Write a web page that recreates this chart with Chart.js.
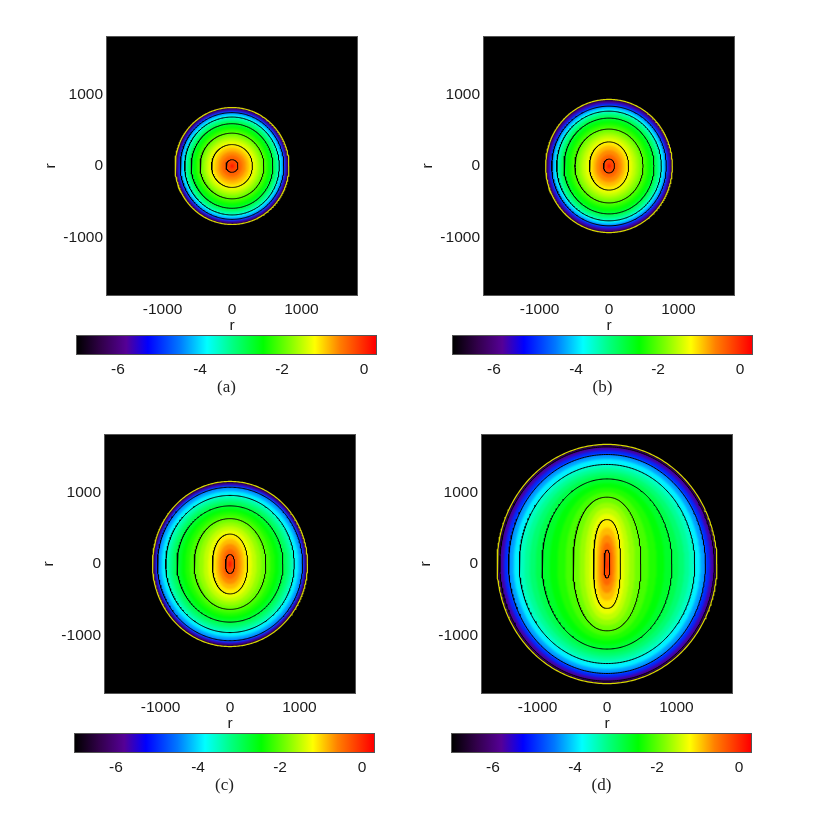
<!DOCTYPE html>
<html>
<head>
<meta charset="utf-8">
<style>
  html, body { margin: 0; padding: 0; background: #fff; }
  canvas { position: absolute; }
</style>
<script src="https://cdn.jsdelivr.net/npm/chart.js@4"></script>
</head>
<body>
<script>
// log density levels, outer edge first. each panel has half width and half height per level
const levels = [-6.8, -6.3, -5.7, -5, -4.3, -3.9, -3.5, -3.3, -3.1, -2.9, -2.7, -2.5, -2.3, -2.1, -1.9, -1.7, -1.5, -1.3, -1.1, -0.88, -0.65, -0.42, -0.2, 0.2];
// black lines, the last one only shows in the widest panel
const contourLevels = [-0.2, -1.1, -1.9, -2.7, -3.5, -4.3];
const extraContour = -5.7;

const widthA = [820, 812, 792, 770, 746, 716, 681, 660, 637, 613, 588, 558, 527, 494, 459, 420, 380, 338, 294, 250, 200, 148, 86, 25];
const heightA = [816, 808, 790, 768, 745, 716, 683, 662, 640, 616, 590, 560, 529, 495, 458, 420, 381, 340, 299, 255, 203, 150, 88, 28];
const widthB = [912, 905, 885, 858, 825, 790, 753, 730, 705, 677, 648, 612, 573, 532, 490, 440, 390, 337, 282, 238, 190, 135, 79, 22];
const heightB = [929, 920, 900, 870, 835, 802, 765, 745, 720, 695, 668, 632, 595, 556, 515, 472, 428, 382, 336, 285, 225, 160, 97, 30];
const widthC = [1116, 1105, 1088, 1068, 1045, 988, 925, 888, 848, 806, 763, 705, 645, 582, 516, 450, 384, 318, 253, 205, 160, 112, 65, 20];
const heightC = [1152, 1140, 1122, 1098, 1071, 1015, 957, 923, 888, 850, 811, 770, 728, 682, 633, 582, 528, 473, 417, 350, 280, 208, 132, 45];
const widthD = [1583, 1565, 1545, 1485, 1418, 1345, 1263, 1190, 1115, 1030, 935, 825, 715, 600, 488, 400, 320, 252, 194, 155, 118, 80, 41, 12];
const heightD = [1669, 1652, 1634, 1585, 1528, 1465, 1389, 1340, 1290, 1240, 1187, 1130, 1065, 1000, 932, 855, 780, 700, 619, 510, 405, 300, 195, 60];

// colour table
const mapLevels = [-7, -6.4, -5.8, -5.27, -4.5, -3.83, -3.2, -2.46, -1.8, -1.2, -0.6, 0.27];
const mapColors = [[0, 0, 0], [50, 0, 75], [85, 0, 150], [0, 0, 255], [0, 120, 255], [0, 255, 255], [0, 255, 130], [0, 255, 0], [130, 255, 0], [255, 255, 0], [255, 128, 0], [255, 0, 0]];

const axisTicks = [-1000, 0, 1000];
const barTicks = [-6, -4, -2, 0];
const barMin = -7;
const barMax = 0.29;
const axisMax = 1800;

function colorAt(v) {
    let i = 0;
    while (i < mapLevels.length - 2 && v > mapLevels[i + 1]) i++;
    let t = (v - mapLevels[i]) / (mapLevels[i + 1] - mapLevels[i]);
    t = Math.max(0, Math.min(1, t));
    const c = mapColors[i].map((a, k) => Math.round(a + (mapColors[i + 1][k] - a) * t));
    return `rgb(${c[0]},${c[1]},${c[2]})`;
}

// outline of one level, long thin levels get slightly squarer sides
function outline(w, h) {
    const n = 2 + Math.min(0.4, 0.2 * Math.max(0, h / w - 1));
    const pts = [];
    for (let i = 0; i <= 360; i++) {
        const a = i / 360 * 2 * Math.PI;
        const c = Math.cos(a), s = Math.sin(a);
        pts.push({
            x: w * Math.sign(c) * Math.pow(Math.abs(c), 2 / n),
            y: h * Math.sign(s) * Math.pow(Math.abs(s), 2 / n)
        });
    }
    return pts;
}

function addCanvas(left, top, width, height) {
    const c = document.createElement('canvas');
    c.width = width;
    c.height = height;
    c.style.left = left + 'px';
    c.style.top = top + 'px';
    document.body.appendChild(c);
    return c.getContext('2d');
}

const textFont = { family: '"Liberation Sans", sans-serif', size: 15.5 };
const textColor = '#1a1a1a';

const framePlugin = {
    id: 'frame',
    afterDraw(chart) {
        const { ctx, chartArea: a } = chart;
        ctx.save();
        ctx.strokeStyle = '#555';
        ctx.lineWidth = 1;
        ctx.strokeRect(a.left - 0.5, a.top - 0.5, a.width + 1, a.height + 1);
        ctx.restore();
    }
};

function drawPanel(left, top, widths, heights, blackLevels) {
    const contours = blackLevels.map(lv => {
        const i = levels.indexOf(lv);
        return {
            data: outline(widths[i], heights[i]), showLine: true, fill: false,
            borderColor: '#000', borderWidth: 1, pointRadius: 0
        };
    });
    const edge = {
        data: outline(widths[0], heights[0]), showLine: true, fill: false,
        borderColor: '#d8d800', borderWidth: 1.2, pointRadius: 0
    };
    const bands = levels.map((lv, i) => ({
        data: outline(widths[i], heights[i]), showLine: true, fill: 'shape',
        backgroundColor: colorAt(lv), borderWidth: 0, pointRadius: 0
    })).reverse();
    const lineCount = contours.length + 1;

    new Chart(addCanvas(left - 67, top - 5, 250 + 67 + 5, 258 + 5 + 40), {
        type: 'scatter',
        data: { datasets: [edge, ...contours, ...bands] },
        options: {
            responsive: false,
            animation: false,
            layout: { padding: { top: 5, right: 5 } },
            plugins: { legend: { display: false }, tooltip: { enabled: false } },
            scales: {
                x: {
                    min: -axisMax, max: axisMax,
                    afterBuildTicks: s => { s.ticks = axisTicks.map(v => ({ value: v })); },
                    afterFit: s => { s.height = 40; s.paddingLeft = 0; s.paddingRight = 0; },
                    grid: { display: false, drawTicks: false },
                    border: { display: false },
                    ticks: { maxRotation: 0, padding: 5, color: textColor, font: textFont, callback: v => String(v) },
                    title: { display: true, text: 'r', color: textColor, font: textFont, padding: 0 }
                },
                y: {
                    min: -axisMax, max: axisMax,
                    afterBuildTicks: s => { s.ticks = axisTicks.map(v => ({ value: v })); },
                    afterFit: s => { s.width = 67; s.paddingTop = 0; s.paddingBottom = 0; },
                    grid: { display: false, drawTicks: false },
                    border: { display: false },
                    ticks: { padding: 4, color: textColor, font: textFont, callback: v => String(v) },
                    title: { display: true, text: 'r', color: textColor, font: textFont, padding: { top: 1, bottom: 0 } }
                }
            }
        },
        plugins: [framePlugin, {
            id: 'soften',
            beforeDraw(chart) {
                const { ctx, chartArea: a } = chart;
                ctx.fillStyle = '#000';
                ctx.fillRect(a.left, a.top, a.width, a.height);
            },
            // the colour bands are blurred slightly so the steps between levels do not show
            beforeDatasetsDraw(chart) { chart.ctx.filter = 'blur(1.2px)'; },
            afterDatasetDraw(chart, args) {
                if (args.index === lineCount) chart.ctx.filter = 'none';
            }
        }]
    });
}

function drawBar(left, top, label) {
    new Chart(addCanvas(left - 10, top - 3, 299 + 20, 18 + 3 + 44), {
        type: 'bar',
        data: {
            labels: [''],
            datasets: [{
                data: [[barMin, barMax]],
                barPercentage: 1,
                categoryPercentage: 1,
                backgroundColor(c) {
                    const { chart } = c;
                    if (!chart.chartArea) return '#000';
                    const x = chart.scales.x;
                    const g = chart.ctx.createLinearGradient(x.left, 0, x.right, 0);
                    mapLevels.forEach(v => {
                        const p = (v - barMin) / (barMax - barMin);
                        g.addColorStop(Math.min(1, p), colorAt(v));
                    });
                    return g;
                }
            }]
        },
        options: {
            indexAxis: 'y',
            responsive: false,
            animation: false,
            layout: { padding: { top: 3, left: 10, right: 10 } },
            plugins: { legend: { display: false }, tooltip: { enabled: false } },
            scales: {
                y: { display: false },
                x: {
                    min: barMin, max: barMax,
                    afterBuildTicks: s => { s.ticks = barTicks.map(v => ({ value: v })); },
                    afterFit: s => { s.height = 44; s.paddingLeft = 0; s.paddingRight = 0; },
                    grid: { display: false, drawTicks: false },
                    border: { display: false },
                    ticks: { maxRotation: 0, padding: 6, color: textColor, font: textFont, callback: v => String(v) },
                    title: {
                        display: true, text: label, color: '#222', padding: 0,
                        font: { family: '"Liberation Serif", serif', size: 17 }
                    }
                }
            }
        },
        plugins: [framePlugin]
    });
}

drawPanel(107, 37, widthA, heightA, contourLevels);
drawPanel(484, 37, widthB, heightB, contourLevels);
drawPanel(105, 435, widthC, heightC, contourLevels);
drawPanel(482, 435, widthD, heightD, [...contourLevels, extraContour]);

drawBar(77, 336, '(a)');
drawBar(453, 336, '(b)');
drawBar(75, 734, '(c)');
drawBar(452, 734, '(d)');
</script>
</body>
</html>
